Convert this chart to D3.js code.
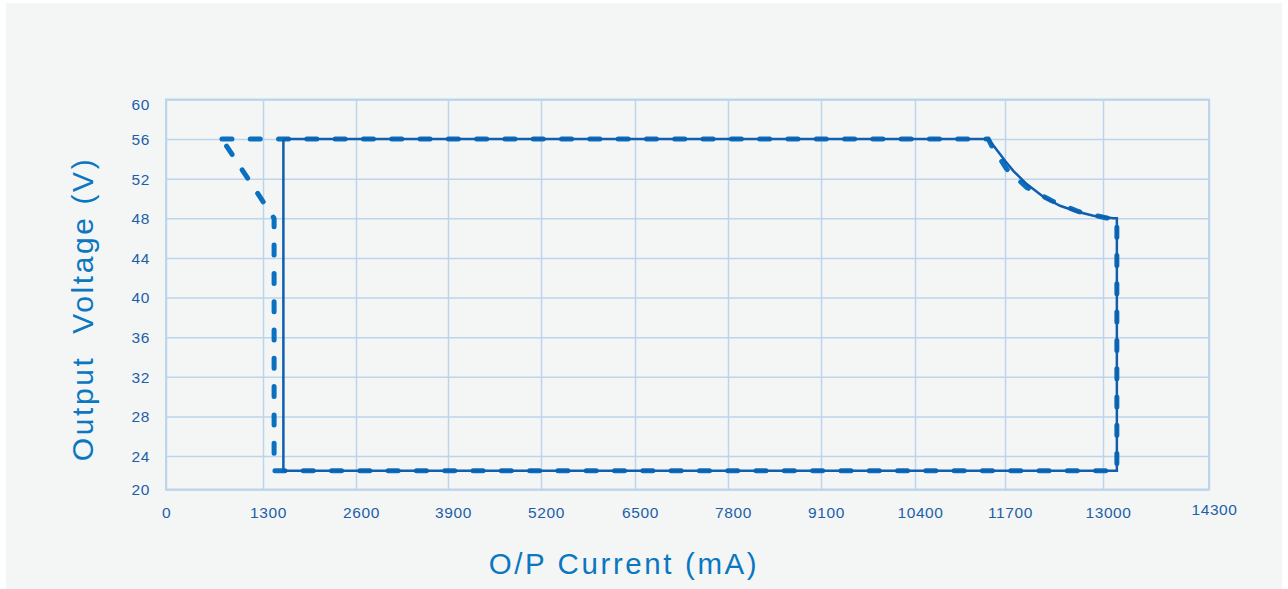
<!DOCTYPE html>
<html>
<head>
<meta charset="utf-8">
<script src="https://cdn.jsdelivr.net/npm/d3@7/dist/d3.min.js"></script>
<style>
	html, body { margin: 0; padding: 0; background: #ffffff; }
	svg { display: block; font-family: "Liberation Sans", Arial, Helvetica, sans-serif; }
</style>
</head>
<body>
<svg id="chart" width="1288" height="589"></svg>
<script>
'use strict';

// tick values for both axes
var currentTicks = [0, 1300, 2600, 3900, 5200, 6500, 7800, 9100, 10400, 11700, 13000, 14300];
var voltageTicks = [20, 24, 28, 32, 36, 40, 44, 48, 52, 56, 60];

// solid outline (mA / V)
var solidCurrent = [1585, 1585, 13170, 13170, 13126, 12872, 12651, 12430, 12208, 11988, 11810, 11700, 11627, 11460, 1585];
var solidVoltage = [56, 22.25, 22.25, 48, 48.0, 48.26, 48.69, 49.27, 50.18, 51.46, 52.8, 53.81, 54.49, 56, 56];

// dashed outline
var dashedCurrent = [750, 11460, 11508, 11723, 11988, 12320, 12673, 13045, 13170, 13170, 1455, 1455, 750];
var dashedVoltage = [56, 56, 55.32, 52.97, 51.12, 49.77, 48.69, 48.03, 48, 22.25, 22.25, 48, 56];

var xTitle = 'O/P Current (mA)';
var yTitle = 'Output  Voltage (V)';

// --- layout ---
var W = 1288, H = 589;
var plot = { left: 166, right: 1209, top: 99.5, bottom: 489.5 };
// the gridlines in the reference are not evenly spaced, so the x scale is piecewise
var xGridOffsets = [0, 97, 190, 282, 375, 469, 562, 655, 749, 839, 937, 1043];

var gridColor = '#bcd5ea',
	labelColor = '#1d5ea8',
	titleColor = '#0b77c0',
	solidColor = '#0f5fae',
	dashColor = '#0a70bf';

var svg = d3.select('#chart');

// panel background
svg.append('rect')
	.attr('x', 6).attr('y', 3)
	.attr('width', 1276).attr('height', H - 3)
	.attr('fill', '#f4f6f6');

var x = d3.scaleLinear()
	.domain(currentTicks)
	.range(xGridOffsets.map(function (d) { return plot.left + d; }));

var y = d3.scaleLinear()
	.domain([20, 24, 60])
	.range([plot.bottom, 456, plot.top]);

// gridlines
var grid = svg.append('g').attr('class', 'grid');

grid.append('g')
	.attr('transform', 'translate(0,' + plot.bottom + ')')
	.call(d3.axisBottom(x).tickValues(currentTicks).tickSize(-(plot.bottom - plot.top)).tickFormat(''))
	.call(function (g) { g.select('.domain').remove(); });

grid.append('g')
	.attr('transform', 'translate(' + plot.left + ',0)')
	.call(d3.axisLeft(y).tickValues(voltageTicks).tickSize(-(plot.right - plot.left)).tickFormat(''))
	.call(function (g) { g.select('.domain').remove(); });

grid.selectAll('line')
	.attr('stroke', gridColor)
	.attr('stroke-width', 1.5);

grid.append('rect')
	.attr('x', plot.left).attr('y', plot.top)
	.attr('width', plot.right - plot.left)
	.attr('height', plot.bottom - plot.top)
	.attr('fill', 'none')
	.attr('stroke', gridColor)
	.attr('stroke-width', 2);

// tick labels
var xAxis = svg.append('g')
	.attr('transform', 'translate(0,' + plot.bottom + ')')
	.call(d3.axisBottom(x).tickValues(currentTicks).tickSize(0).tickPadding(0).tickFormat(d3.format('d')));
xAxis.select('.domain').remove();
xAxis.selectAll('text')
	.attr('fill', labelColor)
	.attr('font-size', 15.5)
	.attr('letter-spacing', 0.6)
	.attr('dy', null)
	.attr('y', function (d, i) { return i === currentTicks.length - 1 ? 25.5 : 28.5; })
	.attr('dx', function (d, i) { return i === 0 ? 0 : 5; });

var yAxis = svg.append('g')
	.attr('transform', 'translate(' + plot.left + ',0)')
	.call(d3.axisLeft(y).tickValues(voltageTicks).tickSize(0).tickPadding(16).tickFormat(d3.format('d')));
yAxis.select('.domain').remove();
yAxis.selectAll('text')
	.attr('fill', labelColor)
	.attr('font-size', 15.5)
	.attr('letter-spacing', 0.6)
	.attr('dy', function (d) { return d === 60 ? '0.67em' : '0.35em'; });
svg.selectAll('.tick text').attr('font-family', '"Liberation Sans", Arial, sans-serif');

// outlines
var line = d3.line()
	.x(function (d) { return x(d[0]); })
	.y(function (d) { return y(d[1]); });

var solidPts = d3.zip(solidCurrent, solidVoltage);
var dashedPts = d3.zip(dashedCurrent, dashedVoltage);

svg.append('path')
	.datum(dashedPts)
	.attr('d', line)
	.attr('fill', 'none')
	.attr('stroke', dashColor)
	.attr('stroke-width', 5)
	.attr('stroke-linecap', 'round')
	.attr('stroke-linejoin', 'round')
	.attr('stroke-dasharray', '10,18.3');

svg.append('path')
	.datum(solidPts)
	.attr('d', line)
	.attr('fill', 'none')
	.attr('stroke', solidColor)
	.attr('stroke-width', 2.5)
	.attr('stroke-linejoin', 'miter');

// axis titles
svg.append('text')
	.attr('x', 624).attr('y', 574)
	.attr('text-anchor', 'middle')
	.attr('fill', titleColor)
	.attr('font-size', 29.5)
	.attr('letter-spacing', 2.6)
	.text(xTitle);

svg.append('text')
	.attr('transform', 'translate(93,309) rotate(-90)')
	.attr('text-anchor', 'middle')
	.attr('fill', titleColor)
	.attr('font-size', 30)
	.attr('letter-spacing', 2.6)
	.style('white-space', 'pre')
	.text(yTitle);
</script>
</body>
</html>
